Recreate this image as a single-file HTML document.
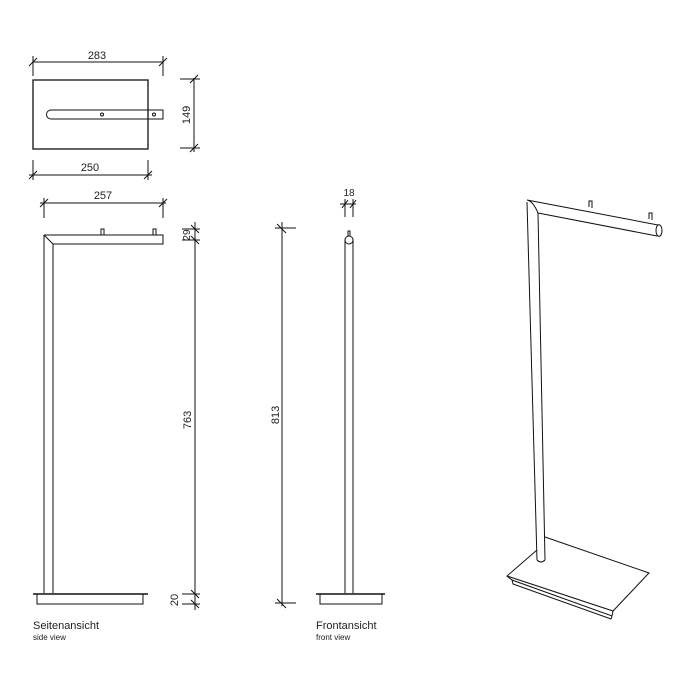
<!DOCTYPE html>
<html><head><style>body{margin:0;background:#fff}svg{display:block}text{font-family:"Liberation Sans",sans-serif;fill:#222}</style></head>
<body>
<svg width="700" height="700" viewBox="0 0 700 700" xmlns="http://www.w3.org/2000/svg" fill="none" stroke="#111" stroke-width="1">
<!-- top view -->
<rect x="33" y="80" width="115" height="69" stroke-width="1.3"/>
<path d="M51 110 H163 V119 H51 A4.5 4.5 0 0 1 51 110 Z"/>
<circle cx="102" cy="114.5" r="1.5"/><circle cx="154" cy="114.5" r="1.5"/>
<line x1="33" y1="62" x2="163" y2="62"/><line x1="33" y1="56" x2="33" y2="76"/><line x1="163" y1="56" x2="163" y2="76"/>
<line x1="29" y1="66" x2="37" y2="58"/><line x1="159" y1="66" x2="167" y2="58"/>
<text x="97" y="59" font-size="11" text-anchor="middle" stroke="none">283</text>
<line x1="194" y1="78" x2="194" y2="152"/><line x1="180" y1="79" x2="200" y2="79"/><line x1="180" y1="148" x2="200" y2="148"/>
<line x1="190" y1="83" x2="198" y2="75"/><line x1="190" y1="152" x2="198" y2="144"/>
<text transform="translate(190,115) rotate(-90)" font-size="11" text-anchor="middle" stroke="none">149</text>
<line x1="29" y1="175" x2="152" y2="175"/><line x1="33" y1="160" x2="33" y2="180"/><line x1="148" y1="160" x2="148" y2="180"/>
<line x1="29" y1="179" x2="37" y2="171"/><line x1="144" y1="179" x2="152" y2="171"/>
<text x="90" y="171" font-size="11" text-anchor="middle" stroke="none">250</text>
<!-- side view -->
<line x1="40" y1="203" x2="166" y2="203"/><line x1="44" y1="198" x2="44" y2="218"/><line x1="163" y1="198" x2="163" y2="218"/>
<line x1="40" y1="207" x2="48" y2="199"/><line x1="159" y1="207" x2="167" y2="199"/>
<text x="103" y="199" font-size="11" text-anchor="middle" stroke="none">257</text>
<path d="M44 235 H163 V244 H53 V593 M44 235 V593 M44 235 L53 244"/>
<path d="M101 235 V229 H104 V235 M153 235 V229 H156 V235"/>
<line x1="33" y1="594" x2="148" y2="594" stroke-width="1.4"/>
<rect x="37" y="594" width="106" height="10"/>
<line x1="195" y1="222" x2="195" y2="610"/>
<line x1="182" y1="229" x2="200" y2="229"/><line x1="182" y1="240" x2="200" y2="240"/>
<line x1="182" y1="594" x2="200" y2="594"/><line x1="182" y1="604" x2="200" y2="604"/>
<line x1="191" y1="225" x2="199" y2="233"/><line x1="191" y1="236" x2="199" y2="244"/>
<line x1="191" y1="590" x2="199" y2="598"/><line x1="191" y1="600" x2="199" y2="608"/>
<text transform="translate(190,235) rotate(-90)" font-size="10" text-anchor="middle" stroke="none">29</text>
<text transform="translate(191,420) rotate(-90)" font-size="11" text-anchor="middle" stroke="none">763</text>
<text transform="translate(178,600) rotate(-90)" font-size="11" text-anchor="middle" stroke="none">20</text>
<text x="33" y="629" font-size="11" stroke="none">Seitenansicht</text>
<text x="33" y="640" font-size="8" stroke="none">side view</text>
<!-- front view -->
<line x1="282" y1="222" x2="282" y2="606"/><line x1="275" y1="228" x2="296" y2="228"/><line x1="275" y1="603" x2="296" y2="603"/>
<line x1="277" y1="224" x2="286" y2="233"/><line x1="277" y1="599" x2="286" y2="608"/>
<text transform="translate(279,415) rotate(-90)" font-size="11" text-anchor="middle" stroke="none">813</text>
<line x1="340" y1="204" x2="356" y2="204"/><line x1="345" y1="199" x2="345" y2="217"/><line x1="353" y1="199" x2="353" y2="217"/>
<line x1="342" y1="208" x2="348" y2="200"/><line x1="350" y1="208" x2="356" y2="200"/>
<text x="349" y="196" font-size="10" text-anchor="middle" stroke="none">18</text>
<path d="M345 240 V593 M353 240 V593"/><circle cx="349" cy="240" r="4"/><path d="M348 236 V231 H350 V236"/>
<line x1="316" y1="594" x2="385" y2="594" stroke-width="1.4"/>
<rect x="320" y="594" width="62" height="10"/>
<text x="316" y="629" font-size="11" stroke="none">Frontansicht</text>
<text x="316" y="640" font-size="8" stroke="none">front view</text>
<!-- perspective -->
<path d="M527 200 L658 225 M538 213 L657 236 M527 200 Q533 201 538 213"/>
<ellipse cx="659" cy="230.5" rx="3" ry="5.8"/>
<path d="M527 202 L537 560 M538 213 L545 560 M537 560 Q541 564 545 560"/>
<path d="M589 207 V201 H592 V208 M649 219 V213 H652 V220"/>
<path d="M537 550 L507 576 L613 611 L649 573 L545 537"/>
<path d="M507 576 L512 580 L612 616 L613 611 M512 580 L513 584 L611 619 L612 616"/>
</svg>
</body></html>
